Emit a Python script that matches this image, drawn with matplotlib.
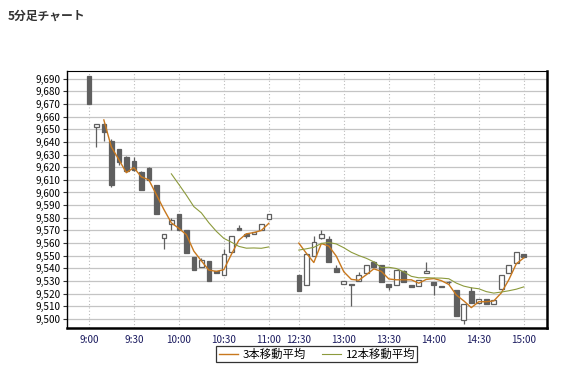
import matplotlib
matplotlib.use("Agg")
import matplotlib.pyplot as plt
import pandas as pd

plt.rcParams['font.family'] = ['Noto Sans CJK JP', 'DejaVu Sans']

# 5-minute bars, morning session (9:00-11:00) and afternoon (12:30-15:00)
am_times = ["9:00", "9:05", "9:10", "9:15", "9:20", "9:25", "9:30", "9:35", "9:40",
            "9:45", "9:50", "9:55", "10:00", "10:05", "10:10", "10:15", "10:20",
            "10:25", "10:30", "10:35", "10:40", "10:45", "10:50", "10:55", "11:00"]
am_open = [9692, 9652, 9654, 9641, 9634, 9628, 9625, 9616, 9619, 9606, 9564, 9575, 9583,
           9570, 9549, 9541, 9546, 9538, 9535, 9553, 9572, 9567, 9567, 9570, 9579]
am_high = [9692, 9654, 9655, 9642, 9634, 9629, 9628, 9617, 9620, 9606, 9567, 9580, 9583,
           9570, 9549, 9548, 9546, 9538, 9555, 9566, 9574, 9568, 9569, 9575, 9583]
am_low = [9670, 9636, 9641, 9604, 9622, 9616, 9617, 9602, 9609, 9583, 9555, 9570, 9570,
          9552, 9539, 9541, 9530, 9536, 9535, 9553, 9570, 9564, 9567, 9570, 9579]
am_close = [9670, 9654, 9648, 9606, 9624, 9617, 9618, 9602, 9610, 9583, 9567, 9578, 9570,
            9552, 9539, 9547, 9530, 9536, 9551, 9566, 9570, 9566, 9569, 9575, 9583]

pm_times = ["12:30", "12:35", "12:40", "12:45", "12:50", "12:55", "13:00", "13:05",
            "13:10", "13:15", "13:20", "13:25", "13:30", "13:35", "13:40", "13:45",
            "13:50", "13:55", "14:00", "14:05", "14:10", "14:15", "14:20", "14:25",
            "14:30", "14:35", "14:40", "14:45", "14:50", "14:55", "15:00"]
pm_open = [9535, 9527, 9550, 9564, 9563, 9540, 9528, 9528, 9530, 9536, 9545, 9543, 9528,
           9527, 9538, 9527, 9526, 9536, 9529, 9525, 9529, 9523, 9499, 9522, 9513, 9516,
           9512, 9524, 9536, 9544, 9551]
pm_high = [9535, 9551, 9566, 9570, 9566, 9543, 9530, 9528, 9537, 9543, 9546, 9543, 9528,
           9539, 9539, 9527, 9531, 9545, 9529, 9526, 9530, 9523, 9512, 9525, 9516, 9516,
           9515, 9535, 9543, 9553, 9551]
pm_low = [9522, 9527, 9550, 9563, 9545, 9537, 9528, 9510, 9530, 9536, 9541, 9529, 9523,
          9527, 9529, 9525, 9526, 9536, 9519, 9525, 9528, 9502, 9496, 9513, 9513, 9512,
          9512, 9524, 9536, 9544, 9549]
pm_close = [9522, 9551, 9561, 9567, 9545, 9537, 9530, 9527, 9535, 9543, 9541, 9529, 9525,
            9539, 9529, 9525, 9531, 9538, 9527, 9526, 9529, 9502, 9512, 9513, 9516, 9512,
            9515, 9535, 9543, 9553, 9549]

tick_labels = ["9:00", "9:30", "10:00", "10:30", "11:00", "12:30",
               "13:00", "13:30", "14:00", "14:30", "15:00"]

# slot index on the x axis, lunch break leaves three empty slots
gap = 3
am_x = list(range(len(am_times)))
pm_x = [len(am_times) + gap + i for i in range(len(pm_times))]

xs = am_x + pm_x
times = am_times + pm_times
opens = am_open + pm_open
highs = am_high + pm_high
lows = am_low + pm_low
closes = am_close + pm_close

close_s = pd.Series(closes)
ma3 = close_s.rolling(3).mean()
ma12 = close_s.rolling(12).mean()

fig = plt.figure(figsize=(5.62, 3.68), dpi=100)
ax = fig.add_axes([0.119, 0.109, 0.854, 0.698])

candle = "#5f5f5f"
body_w = 0.62
for x, o, h, l, c in zip(xs, opens, highs, lows, closes):
    ax.vlines(x, l, h, color=candle, linewidth=0.9, zorder=3)
    lo, hi = min(o, c), max(o, c)
    height = max(hi - lo, 0.6)
    if c >= o:
        ax.bar(x, height, bottom=lo, width=body_w, facecolor="white",
               edgecolor=candle, linewidth=0.9, zorder=4)
    else:
        ax.bar(x, height, bottom=lo, width=body_w, facecolor=candle,
               edgecolor=candle, linewidth=0.9, zorder=4)

n_am = len(am_times)
ax.plot(am_x, ma3[:n_am], color="#c8781e", linewidth=1.0, zorder=5, label="3本移動平均")
ax.plot(pm_x, ma3[n_am:], color="#c8781e", linewidth=1.0, zorder=5)
ax.plot(am_x, ma12[:n_am], color="#8c9a3c", linewidth=0.8, zorder=5, label="12本移動平均")
ax.plot(pm_x, ma12[n_am:], color="#8c9a3c", linewidth=0.8, zorder=5)

ax.set_xlim(-2.93, 61.07)
ax.set_ylim(9493, 9696)

yticks = list(range(9500, 9691, 10))
ax.set_yticks(yticks)
ax.set_yticklabels([f"{v:,}" for v in yticks], fontsize=7.2)
ax.tick_params(axis="y", length=3, width=0.8, pad=1.5, color="#333333")

tick_pos = [xs[times.index(t)] for t in tick_labels]
ax.set_xticks(tick_pos)
ax.set_xticklabels(tick_labels, fontsize=7.2, color="#1c1c60")
ax.tick_params(axis="x", length=0, pad=5)

ax.grid(axis="y", color="#c4c4c4", linewidth=0.9, linestyle="-", zorder=0)
ax.grid(axis="x", color="#bcbcbc", linewidth=0.8, linestyle=(0, (1, 2)), zorder=0)
ax.set_axisbelow(True)

ax.spines["top"].set_linewidth(0.8)
ax.spines["left"].set_linewidth(1.0)
for side in ["bottom", "right"]:
    ax.spines[side].set_linewidth(1.8)

leg = ax.legend(loc="upper center", bbox_to_anchor=(0.521, -0.072), ncol=2,
                fontsize=8.2, frameon=True, fancybox=False, handlelength=1.7,
                handletextpad=0.4, columnspacing=1.4, borderpad=0.2,
                borderaxespad=0)
leg.get_frame().set_edgecolor("black")
leg.get_frame().set_linewidth(0.9)

fig.text(0.014, 0.957, "5分足チャート", fontsize=8.5, fontweight="bold",
         color="#333333", va="center", ha="left")

fig.savefig("out.png", dpi=100)
